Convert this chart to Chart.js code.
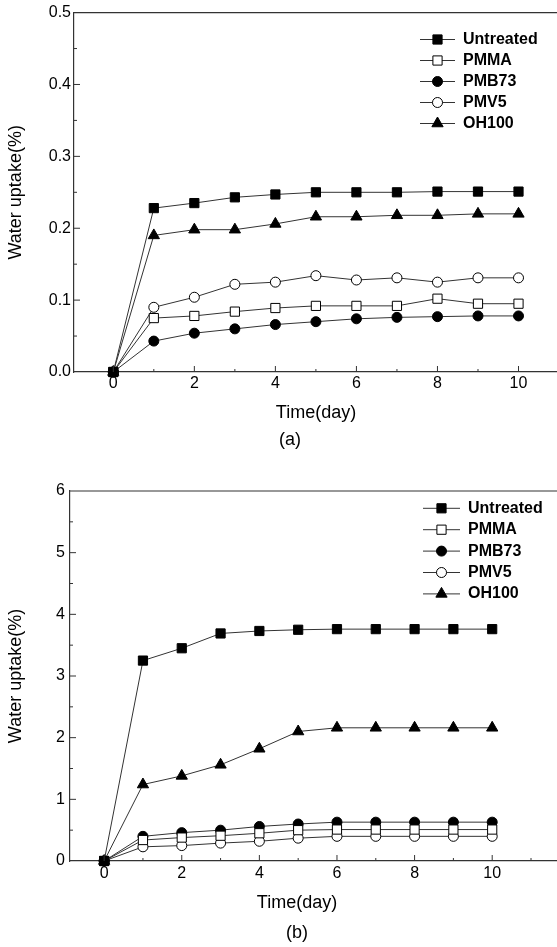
<!DOCTYPE html>
<html>
<head>
<meta charset="utf-8">
<script src="https://cdn.jsdelivr.net/npm/chart.js@4.4.1/dist/chart.umd.min.js"></script>
<style>
  html, body { margin: 0; padding: 0; background: #fff; }
  .panel { position: relative; width: 557px; }
  canvas { display: block; }
</style>
</head>
<body>
<div class="panel"><canvas id="chartA" width="557" height="460"></canvas></div>
<div class="panel"><canvas id="chartB" width="557" height="487"></canvas></div>
<script>
// x values (days) and legend names
const days = [0, 1, 2, 3, 4, 5, 6, 7, 8, 9, 10];
const seriesNames = ['Untreated', 'PMMA', 'PMB73', 'PMV5', 'OH100'];

// panel (a) water uptake (%)
const untreatedA = [0, 0.228, 0.235, 0.243, 0.247, 0.250, 0.250, 0.250, 0.251, 0.251, 0.251];
const pmmaA      = [0, 0.075, 0.078, 0.084, 0.089, 0.092, 0.092, 0.092, 0.102, 0.095, 0.095];
const pmb73A     = [0, 0.043, 0.054, 0.060, 0.066, 0.070, 0.074, 0.076, 0.077, 0.078, 0.078];
const pmv5A      = [0, 0.090, 0.104, 0.122, 0.125, 0.134, 0.128, 0.131, 0.125, 0.131, 0.131];
const oh100A     = [0, 0.190, 0.198, 0.198, 0.206, 0.216, 0.216, 0.218, 0.218, 0.220, 0.220];

// panel (b) water uptake (%)
const untreatedB = [0, 3.25, 3.45, 3.69, 3.73, 3.75, 3.76, 3.76, 3.76, 3.76, 3.76];
const pmmaB      = [0, 0.34, 0.38, 0.41, 0.45, 0.50, 0.51, 0.51, 0.51, 0.51, 0.51];
const pmb73B     = [0, 0.40, 0.46, 0.50, 0.56, 0.60, 0.63, 0.63, 0.63, 0.63, 0.63];
const pmv5B      = [0, 0.23, 0.25, 0.29, 0.32, 0.37, 0.40, 0.40, 0.40, 0.40, 0.40];
const oh100B     = [0, 1.24, 1.38, 1.56, 1.82, 2.10, 2.16, 2.16, 2.16, 2.16, 2.16];

// y tick labels
const yTicksA = [0, 0.1, 0.2, 0.3, 0.4, 0.5];
const yTicksB = [0, 1, 2, 3, 4, 5, 6];

// marker looks, same order as seriesNames
const markerStyles = ['rect', 'rect', 'circle', 'circle', 'triangle'];
const markerFills  = ['#000', '#fff', '#000', '#fff', '#000'];
const markerSizes  = [6.5, 6.5, 5, 5, 6.5];

const FONT = "Arial, 'Liberation Sans', sans-serif";
Chart.defaults.font.family = FONT;
Chart.defaults.color = '#000';

// inward tick marks + top frame line
const frameTicks = {
  id: 'frameTicks',
  afterDraw(chart, args, o) {
    const { ctx, chartArea: a, scales: { x, y } } = chart;
    ctx.save();
    ctx.strokeStyle = '#333';
    ctx.lineWidth = 1.2;
    ctx.beginPath();
    ctx.moveTo(a.left, a.top);
    ctx.lineTo(a.right, a.top);
    ctx.stroke();
    ctx.lineWidth = 1;
    for (let d = Math.ceil(x.min); d <= x.max; d++) {
      const px = x.getPixelForValue(d);
      const len = d % 2 === 0 ? 6 : 3;
      ctx.beginPath();
      ctx.moveTo(px, a.bottom);
      ctx.lineTo(px, a.bottom - len);
      ctx.stroke();
    }
    const half = o.yStep / 2;
    const n = Math.round(y.max / half);
    for (let i = 1; i < n; i++) {
      const py = y.getPixelForValue(i * half);
      const len = i % 2 === 0 ? 6 : 3;
      ctx.beginPath();
      ctx.moveTo(a.left, py);
      ctx.lineTo(a.left + len, py);
      ctx.stroke();
    }
    ctx.restore();
  }
};

// legend: short line with marker, bold name
const lineLegend = {
  id: 'lineLegend',
  afterDraw(chart, args, o) {
    const ctx = chart.ctx;
    ctx.save();
    chart.data.datasets.forEach((ds, i) => {
      const yy = o.top + i * o.step;
      ctx.strokeStyle = ds.borderColor;
      ctx.lineWidth = 1;
      ctx.beginPath();
      ctx.moveTo(o.x0, yy);
      ctx.lineTo(o.x1, yy);
      ctx.stroke();
      ctx.fillStyle = ds.pointBackgroundColor;
      ctx.strokeStyle = ds.pointBorderColor;
      ctx.lineWidth = ds.pointBorderWidth;
      Chart.helpers.drawPoint(ctx, {
        pointStyle: ds.pointStyle, radius: ds.pointRadius, rotation: 0, borderWidth: ds.pointBorderWidth
      }, (o.x0 + o.x1) / 2, yy);
      ctx.fillStyle = '#000';
      ctx.font = 'bold 16px ' + FONT;
      ctx.textAlign = 'left';
      ctx.textBaseline = 'middle';
      ctx.fillText(ds.label, o.textX, yy);
    });
    ctx.restore();
  }
};

// x axis title and panel caption
const captions = {
  id: 'captions',
  afterDraw(chart, args, o) {
    const ctx = chart.ctx;
    ctx.save();
    ctx.fillStyle = '#000';
    ctx.font = '18px ' + FONT;
    ctx.textAlign = 'center';
    ctx.textBaseline = 'middle';
    o.items.forEach(t => ctx.fillText(t.text, t.x, t.y));
    ctx.restore();
  }
};

function makeChart(canvasId, values, cfg) {
  const datasets = values.map((vals, i) => ({
    label: seriesNames[i],
    data: days.map((d, k) => ({ x: d, y: vals[k] })),
    borderColor: '#333',
    borderWidth: 1,
    pointStyle: markerStyles[i],
    pointRadius: markerSizes[i],
    pointBackgroundColor: markerFills[i],
    pointBorderColor: '#000',
    pointBorderWidth: 1,
    tension: 0,
    clip: false
  }));

  return new Chart(document.getElementById(canvasId), {
    type: 'line',
    data: { datasets: datasets },
    options: {
      responsive: false,
      animation: false,
      layout: { autoPadding: false, padding: { top: cfg.padTop, left: 0, right: 0, bottom: 0 } },
      plugins: {
        legend: { display: false },
        tooltip: { enabled: false },
        frameTicks: { yStep: cfg.yTicks[1] },
        lineLegend: cfg.legend,
        captions: { items: cfg.captions }
      },
      scales: {
        x: {
          type: 'linear',
          min: cfg.xMin,
          max: cfg.xMax,
          grid: { display: false, drawTicks: false, tickLength: 0 },
          border: { display: true, color: '#333', width: 1.2 },
          afterBuildTicks: (scale) => { scale.ticks = days.map(v => ({ value: v })); },
          afterFit: (scale) => {
            scale.height = cfg.xHeight;
            scale.paddingLeft = 0;
            scale.paddingRight = 0;
          },
          ticks: {
            autoSkip: false,
            maxRotation: 0,
            padding: cfg.xPad,
            font: { size: 16 },
            color: '#000',
            callback: (v) => (v % 2 === 0 ? String(v) : '')
          }
        },
        y: {
          type: 'linear',
          min: 0,
          max: cfg.yTicks[cfg.yTicks.length - 1],
          grid: { display: false, drawTicks: false, tickLength: 0 },
          border: { display: true, color: '#333', width: 1.2 },
          afterBuildTicks: (scale) => { scale.ticks = cfg.yTicks.map(v => ({ value: v })); },
          afterFit: (scale) => { scale.width = cfg.yWidth; },
          ticks: {
            padding: cfg.yPad,
            font: { size: 16 },
            color: '#000',
            callback: (v) => v.toFixed(cfg.yDigits)
          },
          title: {
            display: true,
            text: 'Water uptake(%)',
            font: { size: 18 },
            color: '#000',
            padding: { top: 5, bottom: 0 }
          }
        }
      }
    },
    plugins: [frameTicks, lineLegend, captions]
  });
}

makeChart('chartA', [untreatedA, pmmaA, pmb73A, pmv5A, oh100A], {
  padTop: 11, xMin: -0.97, xMax: 10.95, xHeight: 88, xPad: 2,
  yWidth: 74, yPad: 3, yTicks: yTicksA, yDigits: 1,
  legend: { x0: 420, x1: 455, textX: 463, top: 39.5, step: 21 },
  captions: [
    { text: 'Time(day)', x: 316, y: 413 },
    { text: '(a)', x: 290, y: 440 }
  ]
});

makeChart('chartB', [untreatedB, pmmaB, pmb73B, pmv5B, oh100B], {
  padTop: 31, xMin: -0.88, xMax: 11.67, xHeight: 86, xPad: 3,
  yWidth: 70, yPad: 5, yTicks: yTicksB, yDigits: 0,
  legend: { x0: 423, x1: 460, textX: 468, top: 48.3, step: 21.4 },
  captions: [
    { text: 'Time(day)', x: 297, y: 443 },
    { text: '(b)', x: 297, y: 473 }
  ]
});
</script>
</body>
</html>
